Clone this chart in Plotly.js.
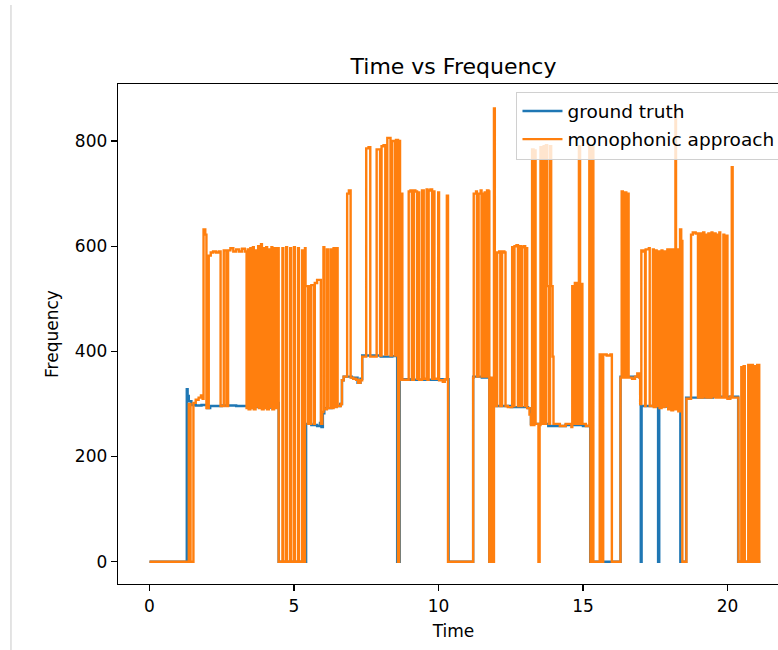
<!DOCTYPE html>
<html><head><meta charset="utf-8">
<script src="https://cdn.plot.ly/plotly-3.0.1.min.js"></script>
<style>html,body{margin:0;padding:0;overflow:hidden;background:#fff;width:778px;height:650px}</style>
</head><body><div id="chart" style="width:790px;height:650px"></div>
<script>
// ground truth (time in s, frequency in Hz), step changes
var truthT = [0,1.29,1.32,1.36,1.45,1.6,1.8,2.0,2.1,2.5,3.0,3.5,3.8,4.0,4.2,4.4,4.47,5.42,5.6,5.8,5.9,5.95,6.0,6.05,6.3,6.6,6.66,6.72,7.0,7.2,7.3,7.36,8.0,8.4,8.57,8.66,9.0,10.0,10.35,11.2,11.5,11.76,11.9,12.5,13.1,13.2,13.8,14.4,15.0,15.25,16.3,16.98,17.0,17.03,17.6,17.64,18.37,18.57,19.5,20.37,21.14];
var truthF = [0,328,315,305,298,297,298,292,296,297,296,294,296,293,295,302,0,262,260,258,264,256,282,292,296,300,345,352,350,340,348,392,390,391,0,347,346,347,0,352,350,0,296,294,292,262,258,260,258,0,352,300,0,296,0,295,0,312,314,0,0];

// monophonic approach estimate, step changes
var monoT = [0,1.36,1.42,1.52,1.6,1.7,1.78,1.84,1.87,1.93,1.97,2.05,2.12,2.2,2.3,2.4,2.46,2.57,2.66,2.72,2.8,2.9,3.0,3.1,3.2,3.3,
3.36,3.4,3.43,3.49,3.52,3.58,3.61,3.67,3.7,3.76,3.79,3.86,3.89,3.95,3.98,4.04,4.07,4.13,4.16,4.22,4.25,4.31,4.34,4.4,
4.47,4.6,4.63,4.73,4.76,4.87,4.9,5.0,5.03,5.14,5.17,5.28,5.31,5.38,
5.4,5.48,5.5,5.58,5.6,5.7,5.72,5.8,5.93,
5.98,6.02,6.05,6.14,6.17,6.26,6.29,6.37,6.4,6.48,6.51,6.62,6.66,6.72,
6.84,6.9,6.96,7.05,7.15,7.22,7.3,
7.36,7.5,7.58,7.64,7.86,7.98,8.03,8.1,8.16,8.23,8.34,8.4,8.5,8.53,
8.6,8.64,8.67,8.72,8.75,
8.97,9.03,9.08,9.15,9.2,9.26,9.3,9.33,9.43,9.49,9.59,9.62,9.66,9.72,9.78,9.83,9.86,9.99,10.02,10.15,10.22,10.29,10.33,
11.2,11.22,11.3,11.33,11.39,11.46,11.49,11.55,11.6,11.63,11.68,11.73,11.76,11.8,11.84,
11.92,11.95,11.99,12.03,12.1,12.14,12.2,12.28,12.32,12.4,12.55,12.6,12.63,12.7,12.75,12.8,12.86,12.9,12.95,13.0,13.03,13.07,13.15,
13.2,13.24,13.29,13.32,13.36,13.46,13.5,13.53,13.58,13.64,13.68,13.72,13.76,13.82,13.86,13.9,13.95,13.98,14.2,14.4,14.6,
14.63,14.68,14.72,14.78,14.86,14.9,14.94,14.98,15.1,
15.22,15.26,15.32,15.36,15.58,15.64,15.7,15.82,15.95,16.0,
16.3,16.34,16.38,16.46,16.5,16.54,16.58,16.7,16.8,16.88,16.94,16.98,
17.02,17.1,17.15,17.17,17.28,17.31,17.42,17.45,17.52,17.55,17.62,17.65,17.72,17.75,17.82,17.85,17.92,17.95,18.03,18.06,18.12,18.15,
18.2,18.22,18.28,18.3,18.36,18.4,18.44,
18.58,18.74,18.8,18.9,18.98,19.04,19.08,19.16,19.2,19.24,19.27,19.34,19.37,19.45,19.48,19.56,19.59,19.64,19.67,19.72,19.75,19.86,19.89,19.96,20.0,20.1,20.15,20.18,20.3,
20.38,20.48,20.52,20.56,20.6,20.72,20.78,20.82,20.88,20.92,21.0,21.03,21.1,21.14];
var monoF = [0,300,0,302,308,312,316,310,632,622,292,582,588,590,588,590,296,592,296,592,596,590,594,590,595,590,
292,594,290,596,292,598,290,592,295,600,292,604,290,596,292,598,290,594,294,598,290,596,292,596,
0,596,0,598,0,596,0,598,0,596,0,592,0,596,
524,262,524,262,526,262,530,536,262,
285,598,290,594,292,594,292,596,294,596,296,300,345,352,
700,706,350,348,346,340,345,
390,786,788,390,784,392,790,792,394,806,392,800,392,802,
0,800,346,700,346,
704,706,346,706,704,348,702,346,706,348,708,346,706,708,348,704,348,702,345,342,347,696,0,
350,700,704,352,700,706,352,700,702,352,706,704,0,350,0,
862,582,296,588,590,296,590,588,296,294,598,296,600,602,296,600,296,598,600,296,596,292,280,
260,784,260,782,262,0,260,788,262,790,262,792,524,262,790,524,390,262,258,262,256,
524,262,530,262,790,262,528,262,258,
790,0,790,0,394,0,394,392,394,0,
350,704,350,702,350,700,350,348,352,358,350,300,
592,590,296,594,596,296,594,294,592,296,590,292,592,294,590,296,594,290,594,288,594,290,
862,290,594,286,632,610,0,
310,622,626,624,312,624,312,626,314,622,312,624,312,626,314,624,312,622,312,626,312,622,312,620,310,314,750,312,312,
0,370,0,372,0,374,0,374,0,372,0,374,0,0];

var xTicks = [0,5,10,15,20];
var yTicks = [0,200,400,600,800];

var FONT = 'DejaVu Sans, sans-serif';
var traces = [
  {x: truthT, y: truthF, type:'scatter', mode:'lines', name:'ground truth', legendgroup:'a',
   line:{color:'#1f77b4', width:2.4, shape:'hv'}},
  {x: monoT, y: monoF, type:'scatter', mode:'lines', name:'monophonic approach', legendgroup:'b',
   line:{color:'#ff7f0e', width:2.4, shape:'hv'}}
];
var layout = {
  width:790, height:650,
  margin:{l:118, r:1, t:84, b:66, autoexpand:false},
  paper_bgcolor:'#fff', plot_bgcolor:'#fff',
  font:{family:FONT, size:17, color:'#000'},
  title:{text:'Time vs Frequency', font:{family:FONT, size:22, color:'#000'},
         xref:'container', x:453.5/790, xanchor:'center', yref:'container', y:1-66/650, yanchor:'middle'},
  xaxis:{range:[-1.09, 22.13], tickvals:xTicks, ticktext:xTicks.map(String),
         ticks:'outside', ticklen:6, tickwidth:1.3, tickcolor:'#000',
         showline:true, linecolor:'#000', linewidth:1.3, mirror:true,
         showgrid:false, zeroline:false, tickfont:{family:FONT, size:17, color:'#000'},
         title:{text:'Time', font:{family:FONT, size:17, color:'#000'}, standoff:10}},
  yaxis:{range:[-42.4, 908.4], tickvals:yTicks, ticktext:yTicks.map(String),
         ticks:'outside', ticklen:6, tickwidth:1.3, tickcolor:'#000',
         showline:true, linecolor:'#000', linewidth:1.3, mirror:false,
         showgrid:false, zeroline:false, tickfont:{family:FONT, size:17, color:'#000'},
         title:{text:'Frequency', font:{family:FONT, size:17, color:'#000'}, standoff:12}},
  showlegend:true,
  legend:{x:0.9873, xanchor:'right', y:0.985, yanchor:'top', traceorder:'grouped', tracegroupgap:1,
          itemwidth:40,
          bgcolor:'rgba(255,255,255,0.8)', bordercolor:'#d0d0d0', borderwidth:1,
          font:{family:FONT, size:18.5, color:'#000'}},
  shapes:[{type:'line', xref:'paper', yref:'paper', x0:-0.1595, x1:-0.1595, y0:-0.132, y1:1.158,
           line:{color:'#c8c8c8', width:1}}]
};
Plotly.newPlot('chart', traces, layout, {displayModeBar:false, staticPlot:true});
</script></body></html>
